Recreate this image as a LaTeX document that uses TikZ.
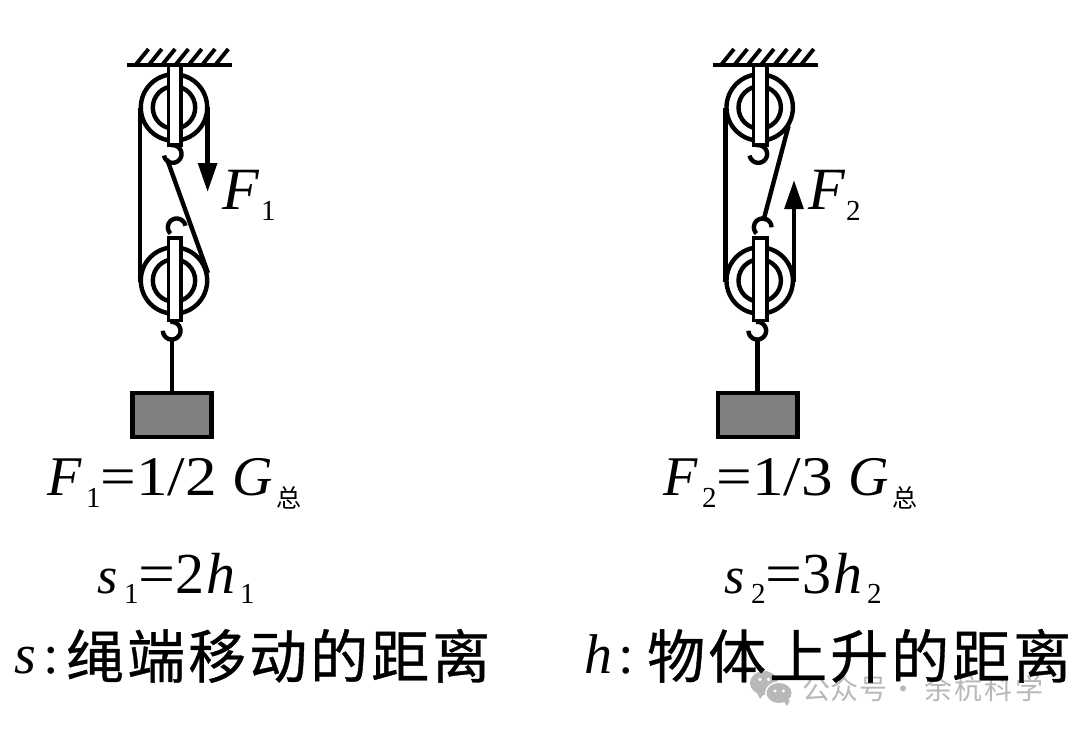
\documentclass[tikz,border=0pt]{standalone}
\usepackage{fontspec}
\setmainfont{Liberation Serif}
\newfontfamily\cjk{Noto Sans CJK SC}
\newfontfamily\cjkb[FakeBold=0.6]{Noto Sans CJK SC}
\usetikzlibrary{arrows.meta}
\tikzset{
  x=1pt,y=-1pt,
  rope/.style={line width=4.4pt,draw=black},
  hatchline/.style={line width=3.9pt,draw=black},
  forcearrow/.style={rope,-{Triangle[length=29pt,width=18.5pt]}},
  strapbox/.style={draw=black,line width=3.6pt,fill=white},
  loadbox/.style={draw=black,line width=4.6pt,fill=black!50},
  txt/.style={inner sep=0pt,anchor=base west},
  wmcolor/.style={black!28}
}
\newcommand{\cell}[2]{\makebox[#1pt][l]{#2}}
\newcommand{\lowered}[3]{\raisebox{-#1pt}{\fontsize{#2}{#2}\selectfont\upshape #3}}
\newcommand{\widened}[1]{\scalebox{1.13}[1]{#1}}
\newcommand{\ceiling}[1]{%
  \begin{scope}[xshift=#1]
    \draw[rope] (127,65) -- (232,65);
    \foreach \k in {0,...,6}{\draw[hatchline] ({135.5+\k*13.3},65) -- ({148.5+\k*13.3},49);}
  \end{scope}}
\newcommand{\pulley}[2]{%
  \draw[rope,fill=white] (#1,#2) circle (33.2);
  \draw[rope,fill=white] (#1,#2) circle (21.2);}
\newcommand{\hook}[5]{% cx cy radius from to (angles clockwise on screen)
  \draw[rope] plot[domain=#4:#5,samples=30,smooth] ({#1+#3*cos(\x)},{#2+#3*sin(\x)});}
\newcommand{\eqF}[3]{%
  {\fontsize{56}{56}\selectfont
  \cell{39}{\itshape F}\cell{14}{\lowered{12}{29}{#1}}\cell{36}{\widened{=}}\cell{96}{\widened{#2}}\cell{44}{\itshape G}\lowered{12}{25}{\cjk #3}}}
\newcommand{\eqS}[2]{%
  {\fontsize{58}{58}\selectfont
  \cell{27}{\fontsize{52}{52}\selectfont\itshape s}\cell{14}{\lowered{10}{29}{#2}}\cell{37}{\widened{=}}\cell{31}{#1}\cell{34}{\itshape h}\lowered{10}{29}{#2}}}
\newcommand{\bigchars}[7]{%
  \raisebox{-5pt}{\fontsize{58}{58}\selectfont\cjkb\cell{61}{#1}\cell{61}{#2}\cell{61}{#3}\cell{61}{#4}\cell{61}{#5}\cell{61}{#6}#7}}
\begin{document}
\begin{tikzpicture}
\useasboundingbox (0,0) rectangle (1080,732);
% ---------- watermark (under the black text)
\fill[wmcolor] (764,683) ellipse (14 and 12);
\fill[wmcolor] (756,691) -- (764,694) -- (760,699) -- cycle;
\fill[white] (779,693) ellipse (14 and 11.5);
\fill[wmcolor] (779,693) ellipse (12.5 and 10);
\fill[wmcolor] (783,700) -- (790,700) -- (787,706) -- cycle;
\fill[white] (760,679.5) circle (1.8) (768.5,679.5) circle (1.8) (775,691) circle (1.6) (783.5,691) circle (1.6);
\node[txt,text=black!28] (wm1) at (802,699) {\fontsize{28}{28}\selectfont\cjk\cell{28.7}{公}\cell{28.7}{众}号};
\node[txt,text=black!28] (wmd) at (889,699) {\fontsize{28}{28}\selectfont\cjk ·};
\node[txt,text=black!28] (wm2) at (924,699) {\fontsize{28}{28}\selectfont\cjk\cell{30.3}{余}\cell{30.3}{杭}\cell{30.3}{科}学};
% ---------- left pulley system
\ceiling{0}
\pulley{174}{107.5}
\pulley{174}{280.5}
\draw[strapbox] (168.3,65) rectangle (181,145);
\draw[strapbox] (168.3,238) rectangle (181,320.5);
\coordinate (a1) at (140,108);
\coordinate (a2) at (140,282);
\draw[rope] (a1) -- (a2);
\coordinate (b1) at (207.6,107);
\coordinate (b2) at (207.6,192);
\draw[forcearrow] (b1) -- (b2);
\coordinate (c1) at (167,159);
\coordinate (c2) at (208,273);
\draw[rope] (c1) -- (c2);
\hook{172.7}{154}{8.8}{-100}{170}
\hook{176.7}{227.3}{8.8}{135}{350}
\hook{171.7}{330.7}{8.8}{-100}{180}
\coordinate (l1) at (171.7,339);
\node[draw=none,inner sep=0pt,minimum size=0pt] (w1) at (171.7,393) {};
\draw[rope] (l1) -- (w1);
\draw[loadbox] (132.3,393) rectangle (211.7,436.8);
% ---------- right pulley system
\ceiling{585.5}
\pulley{759.7}{107.5}
\pulley{759.7}{280.5}
\draw[strapbox] (753.3,65) rectangle (766.7,145);
\draw[strapbox] (753.3,238) rectangle (766.7,320.5);
\coordinate (d1) at (725.5,108);
\coordinate (d2) at (725.5,282);
\draw[rope] (d1) -- (d2);
\coordinate (e1) at (794,282);
\coordinate (e2) at (794,180);
\draw[forcearrow] (e1) -- (e2);
\coordinate (f1c) at (788.5,126);
\coordinate (f2c) at (763.3,221);
\draw[rope] (f1c) -- (f2c);
\hook{758.3}{154}{8.8}{-100}{170}
\hook{762.7}{227.3}{8.8}{135}{360}
\hook{757.3}{330.7}{8.8}{-100}{180}
\coordinate (l2) at (757.3,339);
\node[draw=none,inner sep=0pt,minimum size=0pt] (w2) at (757.3,393) {};
\draw[rope] (l2) -- (w2);
\draw[loadbox] (718,393) rectangle (797.3,436.8);
% ---------- labels
\node[txt] (ff1) at (222,209.5) {\fontsize{60}{60}\selectfont\itshape F};
\node[txt] (ff1s) at (261,220.5) {\fontsize{29}{29}\selectfont 1};
\node[txt] (ff2) at (808,209.5) {\fontsize{60}{60}\selectfont\itshape F};
\node[txt] (ff2s) at (846,220.5) {\fontsize{29}{29}\selectfont 2};
\node[txt] (eq1) at (47,495) {\eqF{1}{1/2}{总}};
\node[txt] (eq2) at (663,495) {\eqF{2}{1/3}{总}};
\node[txt] (sq1) at (97,593) {\eqS{2}{1}};
\node[txt] (sq2) at (724,593) {\eqS{3}{2}};
\node[txt] (cap1) at (14,673) {\fontsize{56}{56}\selectfont\cell{29}{\itshape s}\cell{23}{:}\bigchars{绳}{端}{移}{动}{的}{距}{离}};
\node[txt] (cap2) at (584,673) {\fontsize{56}{56}\selectfont\cell{34}{\itshape h}\cell{29}{:}\bigchars{物}{体}{上}{升}{的}{距}{离}};
\end{tikzpicture}
\end{document}
